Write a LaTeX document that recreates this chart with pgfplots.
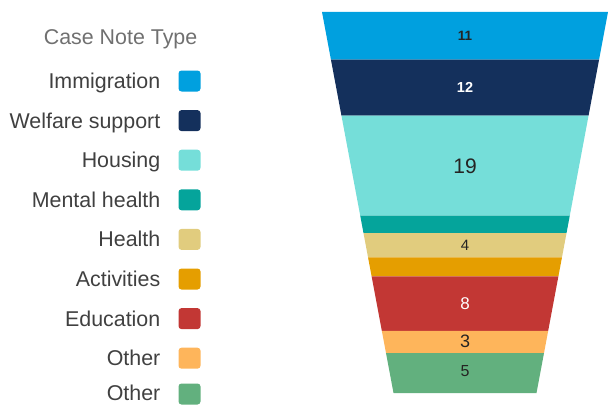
\documentclass[border=0pt]{standalone}
\usepackage{pgfplots}
\pgfplotsset{compat=1.18}
\usepackage{fontspec}
\setmainfont{Liberation Sans}
\definecolor{cImm}{RGB}{0,160,223}
\definecolor{cWel}{RGB}{20,48,92}
\definecolor{cHou}{RGB}{117,222,217}
\definecolor{cMen}{RGB}{5,164,155}
\definecolor{cHea}{RGB}{225,204,126}
\definecolor{cAct}{RGB}{229,158,0}
\definecolor{cEdu}{RGB}{194,55,52}
\definecolor{cOth}{RGB}{254,181,91}
\definecolor{cOtg}{RGB}{98,176,126}
\definecolor{legtxt}{RGB}{64,64,64}
\definecolor{legtitle}{RGB}{112,112,112}
\definecolor{valtxt}{RGB}{37,36,35}
\begin{document}
\begin{tikzpicture}
\useasboundingbox (0,0) rectangle (608bp,405bp);
\begin{axis}[at={(0,0)}, anchor=south west,
  width=608bp, height=405bp, scale only axis,
  xmin=0, xmax=608, ymin=0, ymax=405, y dir=reverse,
  hide axis, clip=false]
% funnel segments (area proportional to value: 11,12,19,3,4,3,8,3,5)
\addplot[fill=cImm, draw=none] coordinates {(322,12) (608,12) (599.05,59.7) (330.95,59.7)} --cycle;
\addplot[fill=cWel, draw=none] coordinates {(330.95,59.7) (599.05,59.7) (588.54,115.7) (341.46,115.7)} --cycle;
\addplot[fill=cHou, draw=none] coordinates {(341.46,115.7) (588.54,115.7) (569.77,215.7) (360.23,215.7)} --cycle;
\addplot[fill=cMen, draw=none] coordinates {(360.23,215.7) (569.77,215.7) (566.49,233.2) (363.51,233.2)} --cycle;
\addplot[fill=cHea, draw=none] coordinates {(363.51,233.2) (566.49,233.2) (561.95,257.4) (368.05,257.4)} --cycle;
\addplot[fill=cAct, draw=none] coordinates {(368.05,257.4) (561.95,257.4) (558.38,276.4) (371.62,276.4)} --cycle;
\addplot[fill=cEdu, draw=none] coordinates {(371.62,276.4) (558.38,276.4) (548.17,330.8) (381.83,330.8)} --cycle;
\addplot[fill=cOth, draw=none] coordinates {(381.83,330.8) (548.17,330.8) (544.01,353.0) (385.99,353.0)} --cycle;
\addplot[fill=cOtg, draw=none] coordinates {(385.99,353.0) (544.01,353.0) (536.5,393) (393.5,393)} --cycle;
% value labels
\node[text=valtxt, font=\fontsize{13.5bp}{15bp}\selectfont\bfseries] at (axis cs:465,35.5) {11};
\node[text=white, font=\fontsize{14.5bp}{16bp}\selectfont\bfseries] at (axis cs:465,87.5) {12};
\node[text=valtxt, font=\fontsize{21bp}{24bp}\selectfont] at (axis cs:465,166.5) {19};
\node[text=valtxt, font=\fontsize{15bp}{17bp}\selectfont] at (axis cs:465,245) {4};
\node[text=white, font=\fontsize{17bp}{19bp}\selectfont] at (axis cs:465,303.5) {8};
\node[text=valtxt, font=\fontsize{18bp}{20bp}\selectfont] at (axis cs:465,341.5) {3};
\node[text=valtxt, font=\fontsize{16bp}{18bp}\selectfont] at (axis cs:465,371.5) {5};
% legend swatches
\addplot[fill=cImm, draw=none, rounded corners=3bp] coordinates {(178.5,70.5) (200.5,70.5) (200.5,91.5) (178.5,91.5)} --cycle;
\addplot[fill=cWel, draw=none, rounded corners=3bp] coordinates {(178.5,110.1) (200.5,110.1) (200.5,131.1) (178.5,131.1)} --cycle;
\addplot[fill=cHou, draw=none, rounded corners=3bp] coordinates {(178.5,149.7) (200.5,149.7) (200.5,170.7) (178.5,170.7)} --cycle;
\addplot[fill=cMen, draw=none, rounded corners=3bp] coordinates {(178.5,189.3) (200.5,189.3) (200.5,210.3) (178.5,210.3)} --cycle;
\addplot[fill=cHea, draw=none, rounded corners=3bp] coordinates {(178.5,228.9) (200.5,228.9) (200.5,249.9) (178.5,249.9)} --cycle;
\addplot[fill=cAct, draw=none, rounded corners=3bp] coordinates {(178.5,268.5) (200.5,268.5) (200.5,289.5) (178.5,289.5)} --cycle;
\addplot[fill=cEdu, draw=none, rounded corners=3bp] coordinates {(178.5,308.1) (200.5,308.1) (200.5,329.1) (178.5,329.1)} --cycle;
\addplot[fill=cOth, draw=none, rounded corners=3bp] coordinates {(178.5,347.7) (200.5,347.7) (200.5,368.7) (178.5,368.7)} --cycle;
\addplot[fill=cOtg, draw=none, rounded corners=3bp] coordinates {(178.5,383.5) (200.5,383.5) (200.5,404.5) (178.5,404.5)} --cycle;
% legend text
\begin{scope}[every node/.style={anchor=base east, inner sep=0pt, text=legtxt, font=\fontsize{21.4bp}{24bp}\selectfont}]
\node[text=legtitle] at (axis cs:197.5,44.5) {Case Note Type};
\node at (axis cs:160.5,88.5) {Immigration};
\node at (axis cs:160.5,128.1) {Welfare support};
\node at (axis cs:160.5,167.7) {Housing};
\node at (axis cs:160.5,207.3) {Mental health};
\node at (axis cs:160.5,246.9) {Health};
\node at (axis cs:160.5,286.5) {Activities};
\node at (axis cs:160.5,326.1) {Education};
\node at (axis cs:160.5,365.7) {Other};
\node at (axis cs:160.5,400.5) {Other};
\end{scope}
\end{axis}
\end{tikzpicture}
\end{document}
